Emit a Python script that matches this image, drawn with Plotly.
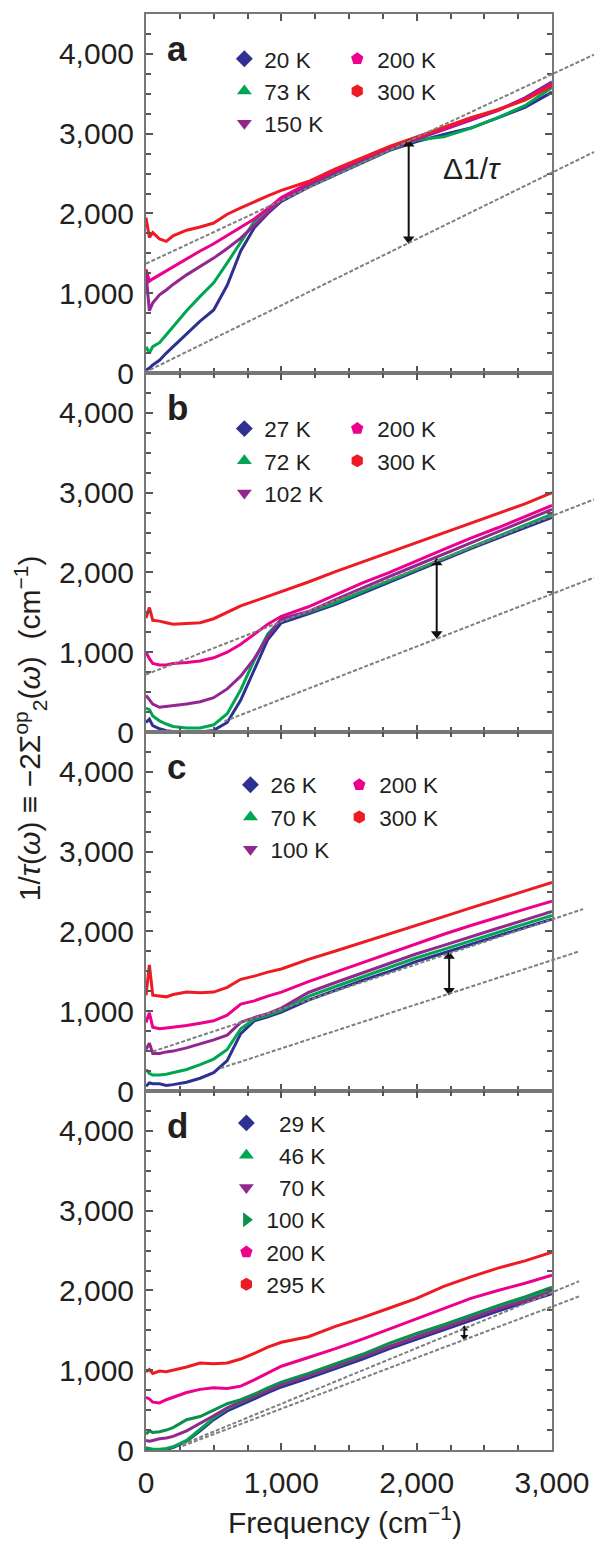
import plotly.graph_objects as go
from plotly.subplots import make_subplots

# ---------------- data ----------------
XG = [0, 25, 50, 100, 150, 200, 300, 400, 500, 600, 700, 800, 900, 1000,
      1200, 1400, 1600, 1800, 2000, 2200, 2400, 2600, 2800, 3000]

# panel a
a_20K  = [40, 60, 100, 160, 250, 330, 500, 650, 790, 1100, 1530, 1820, 2000, 2150,
          2330, 2480, 2630, 2790, 2900, 2990, 3070, 3200, 3330, 3520]
a_73K  = [330, 250, 330, 380, 480, 580, 780, 960, 1130, 1380, 1640, 1900, 2060, 2170,
          2350, 2500, 2650, 2800, 2920, 2960, 3070, 3200, 3350, 3580]
a_150K = [1250, 780, 880, 980, 1040, 1110, 1230, 1330, 1440, 1560, 1690, 1850, 2010, 2170,
          2360, 2520, 2670, 2810, 2930, 3050, 3170, 3290, 3450, 3650]
a_200K = [1300, 1150, 1180, 1230, 1280, 1330, 1440, 1530, 1620, 1720, 1820, 1930, 2060, 2200,
          2380, 2540, 2690, 2830, 2950, 3070, 3190, 3300, 3430, 3620]
a_300K = [1950, 1700, 1760, 1680, 1650, 1720, 1790, 1830, 1880, 1990, 2070, 2150, 2220, 2290,
          2400, 2560, 2700, 2840, 2960, 3080, 3200, 3300, 3420, 3600]

# panel b
b_27K  = [120, 160, 80, 40, 15, 5, 0, 0, 20, 120, 400, 780, 1160, 1370,
          1480, 1600, 1740, 1880, 2020, 2160, 2300, 2430, 2560, 2690]
b_72K  = [300, 280, 200, 140, 100, 70, 50, 50, 90, 230, 530, 900, 1230, 1410,
          1500, 1620, 1760, 1900, 2040, 2180, 2320, 2460, 2600, 2730]
b_102K = [460, 400, 350, 310, 320, 330, 350, 380, 430, 540, 700, 920, 1200, 1420,
          1510, 1660, 1810, 1950, 2090, 2230, 2370, 2510, 2650, 2790]
b_200K = [1000, 920, 860, 840, 840, 860, 870, 890, 930, 1000, 1100, 1220, 1350, 1450,
          1570, 1720, 1870, 2000, 2150, 2290, 2430, 2560, 2700, 2840]
b_300K = [1430, 1560, 1400, 1390, 1370, 1350, 1360, 1370, 1420, 1500, 1580, 1640, 1700, 1760,
          1880, 2010, 2130, 2250, 2370, 2490, 2610, 2730, 2860, 3000]

# panel c
c_26K  = [60, 100, 90, 90, 70, 80, 110, 160, 230, 380, 720, 880, 930, 990,
          1140, 1265, 1385, 1500, 1625, 1730, 1840, 1945, 2050, 2155]
c_70K  = [270, 220, 200, 200, 210, 230, 270, 330, 400, 520, 780, 900, 950, 1010,
          1185, 1310, 1430, 1545, 1670, 1775, 1885, 1990, 2095, 2200]
c_100K = [520, 600, 470, 470, 490, 500, 540, 590, 640, 700, 860, 920, 970, 1040,
          1235, 1360, 1480, 1595, 1720, 1825, 1935, 2040, 2145, 2250]
c_200K = [860, 980, 800, 780, 790, 800, 820, 850, 880, 950, 1090, 1130, 1190, 1240,
          1370, 1490, 1610, 1730, 1850, 1965, 2075, 2180, 2280, 2380]
c_300K = [1200, 1580, 1200, 1190, 1180, 1210, 1240, 1230, 1240, 1300, 1400, 1440, 1490, 1530,
          1650, 1755, 1860, 1970, 2080, 2185, 2295, 2400, 2505, 2615]

# panel d
d_29K  = [20, 10, 0, 0, 10, 30, 110, 240, 380, 490, 560, 640, 720, 790,
          900, 1020, 1140, 1270, 1390, 1500, 1620, 1740, 1850, 1960]
d_46K  = [30, 20, 10, 10, 20, 40, 120, 260, 400, 520, 600, 680, 750, 820,
          930, 1050, 1170, 1300, 1420, 1540, 1660, 1780, 1890, 2010]
d_70K  = [120, 110, 120, 140, 150, 170, 240, 330, 430, 530, 600, 670, 750, 820,
          930, 1050, 1170, 1300, 1420, 1530, 1650, 1770, 1870, 1980]
d_100K = [200, 240, 220, 230, 250, 280, 380, 420, 500, 580, 630, 700, 780, 850,
          960, 1080, 1200, 1340, 1460, 1570, 1690, 1810, 1920, 2040]
d_200K = [660, 640, 600, 590, 630, 660, 720, 760, 780, 770, 800, 880, 960, 1050,
          1160, 1270, 1390, 1520, 1640, 1770, 1900, 2000, 2090, 2190]
d_295K = [980, 1010, 960, 990, 980, 1000, 1040, 1090, 1080, 1090, 1140, 1210, 1290, 1350,
          1420, 1550, 1660, 1780, 1900, 2050, 2170, 2280, 2370, 2480]

# dashed guide lines per panel: (x_start, y_start, x_end, y_end)
guides = {
    1: [(0, 1370, 3310, 3990), (30, 40, 3310, 2770)],
    2: [(0, 720, 3310, 2915), (580, 135, 3310, 1935)],
    3: [(50, 495, 3230, 2280), (550, 285, 3200, 1750)],
    4: [(270, 70, 3200, 2115), (270, 50, 3200, 1925)],
}
# double arrows: (x, y_low, y_high)
arrows = {1: (1941, 1680, 2870), 2: (2148, 1230, 2120), 3: (2240, 1260, 1690), 4: (2352, 1420, 1520)}

panel_letters = ["a", "b", "c", "d"]
XMAX = 3000
YMAX = 4500

BLUE, GREEN, PURPLE, PINK, RED = "#2E3192", "#00A651", "#92278F", "#EC008C", "#ED1C24"
DGREEN = "#0A8F4C"

panels = {
    1: [("20 K", a_20K, BLUE, "diamond"), ("73 K", a_73K, GREEN, "triangle-up"),
        ("150 K", a_150K, PURPLE, "triangle-down"), ("200 K", a_200K, PINK, "pentagon"),
        ("300 K", a_300K, RED, "hexagon")],
    2: [("27 K", b_27K, BLUE, "diamond"), ("72 K", b_72K, GREEN, "triangle-up"),
        ("102 K", b_102K, PURPLE, "triangle-down"), ("200 K", b_200K, PINK, "pentagon"),
        ("300 K", b_300K, RED, "hexagon")],
    3: [("26 K", c_26K, BLUE, "diamond"), ("70 K", c_70K, GREEN, "triangle-up"),
        ("100 K", c_100K, PURPLE, "triangle-down"), ("200 K", c_200K, PINK, "pentagon"),
        ("300 K", c_300K, RED, "hexagon")],
    4: [("\u00a0\u00a029 K", d_29K, BLUE, "diamond"), ("\u00a0\u00a046 K", d_46K, GREEN, "triangle-up"),
        ("\u00a0\u00a070 K", d_70K, PURPLE, "triangle-down"), ("100 K", d_100K, DGREEN, "triangle-right"),
        ("200 K", d_200K, PINK, "pentagon"), ("295 K", d_295K, RED, "hexagon")],
}
legend_of = {
    1: ["legend", "legend", "legend", "legend2", "legend2"],
    2: ["legend3", "legend3", "legend3", "legend4", "legend4"],
    3: ["legend5", "legend5", "legend5", "legend6", "legend6"],
    4: ["legend7"] * 6,
}

FONT = "Liberation Sans, Arial, Helvetica, sans-serif"
TXT = "#231F20"

fig = make_subplots(rows=4, cols=1, shared_xaxes=True, vertical_spacing=0)

for r in range(1, 5):
    for name, ys, col, sym in panels[r]:
        fig.add_trace(go.Scatter(x=XG, y=ys, mode="lines", line=dict(color=col, width=3),
                                 showlegend=False, hoverinfo="skip"), row=r, col=1)
    for (name, ys, col, sym), lg in zip(panels[r], legend_of[r]):
        fig.add_trace(go.Scatter(x=[None], y=[None], mode="markers", name=name,
                                 marker=dict(symbol=sym, color=col, size=13),
                                 legend=lg, showlegend=True), row=r, col=1)

for r, lines in guides.items():
    yref = "y" if r == 1 else f"y{r}"
    for x0, y0, x1, y1 in lines:
        fig.add_shape(type="line", xref="paper", yref=yref,
                      x0=x0 / XMAX, y0=y0, x1=x1 / XMAX, y1=y1,
                      line=dict(color="#7F7F7F", width=2, dash="4px,2px"), layer="above")

# double-headed arrows as small line+triangle traces
for r, (xa, ylo, yhi) in arrows.items():
    sz = 7 if r == 4 else 10
    fig.add_trace(go.Scatter(x=[xa, xa], y=[ylo, yhi], mode="lines+markers",
                             line=dict(color="#111111", width=2),
                             marker=dict(symbol=["triangle-down", "triangle-up"], size=sz,
                                         color="#111111", line=dict(width=0)),
                             showlegend=False, hoverinfo="skip", cliponaxis=False),
                  row=r, col=1)

for r, letter in enumerate(panel_letters, start=1):
    xr = "x domain" if r == 1 else f"x{r} domain"
    yr = "y domain" if r == 1 else f"y{r} domain"
    fig.add_annotation(x=0.048, y=0.905, xref=xr, yref=yr, text=f"<b>{letter}</b>",
                       showarrow=False, xanchor="left", yanchor="middle",
                       font=dict(size=35, family=FONT, color=TXT))

fig.add_annotation(x=2410, y=2560, xref="x", yref="y", text="Δ1/<i>τ</i>", showarrow=False,
                   font=dict(size=30, family=FONT, color=TXT))

fig.add_annotation(x=-0.287, y=0.503, xref="paper", yref="paper", textangle=-90,
                   xanchor="center", yanchor="middle",
                   text="1/<i>τ</i>(<i>ω</i>) ≡ −2Σ<sup>op</sup><sub>2</sub>(<i>ω</i>)\u00a0\u00a0(cm<sup>−1</sup>)",
                   showarrow=False, font=dict(size=30, family=FONT, color=TXT))
fig.add_annotation(x=0.49, y=-0.049, xref="paper", yref="paper",
                   text="Frequency (cm<sup>−1</sup>)", showarrow=False, yanchor="middle",
                   font=dict(size=30, family=FONT, color=TXT))

xt = [0, 1000, 2000, 3000]
xtt = ["0", "1,000", "2,000", "3,000"]
yt = [0, 1000, 2000, 3000, 4000]
ytt = ["0", "1,000", "2,000", "3,000", "4,000"]
for r in range(1, 5):
    fig.update_xaxes(range=[0, XMAX], tickvals=xt, ticktext=xtt, showticklabels=(r == 4),
                     ticks="inside", ticklen=7, tickwidth=1.5, tickcolor="#555",
                     minor=dict(dtick=250, tick0=0, ticks="inside", ticklen=5, tickcolor="#555"),
                     showline=True, linecolor="#777", linewidth=2, mirror="ticks",
                     showgrid=False, zeroline=False, ticklabelstandoff=5,
                     tickfont=dict(size=30, family=FONT, color=TXT), row=r, col=1)
    fig.update_yaxes(range=[0, YMAX], tickvals=yt, ticktext=ytt,
                     ticks="inside", ticklen=7, tickwidth=1.5, tickcolor="#555",
                     minor=dict(dtick=250, tick0=0, ticks="inside", ticklen=5, tickcolor="#555"),
                     showline=True, linecolor="#777", linewidth=2, mirror="ticks",
                     showgrid=False, zeroline=False, ticklabelstandoff=4,
                     tickfont=dict(size=30, family=FONT, color=TXT), row=r, col=1)

LFONT = dict(size=22.5, family=FONT, color=TXT)
def lg(x, y):
    return dict(x=x, y=y, xanchor="left", yanchor="top", bgcolor="rgba(0,0,0,0)",
                font=LFONT, itemwidth=30, tracegroupgap=0, borderwidth=0)

fig.update_layout(
    width=602, height=1541,
    margin=dict(l=146, r=42, t=13, b=91),
    paper_bgcolor="white", plot_bgcolor="white",
    font=dict(family=FONT, color=TXT),
    legend=lg(0.193, 0.9835), legend2=lg(0.471, 0.9835),
    legend3=lg(0.193, 0.7260), legend4=lg(0.471, 0.7260),
    legend5=lg(0.208, 0.4780), legend6=lg(0.476, 0.4780),
    legend7=lg(0.198, 0.2425),
)

fig.write_html("out.html")
